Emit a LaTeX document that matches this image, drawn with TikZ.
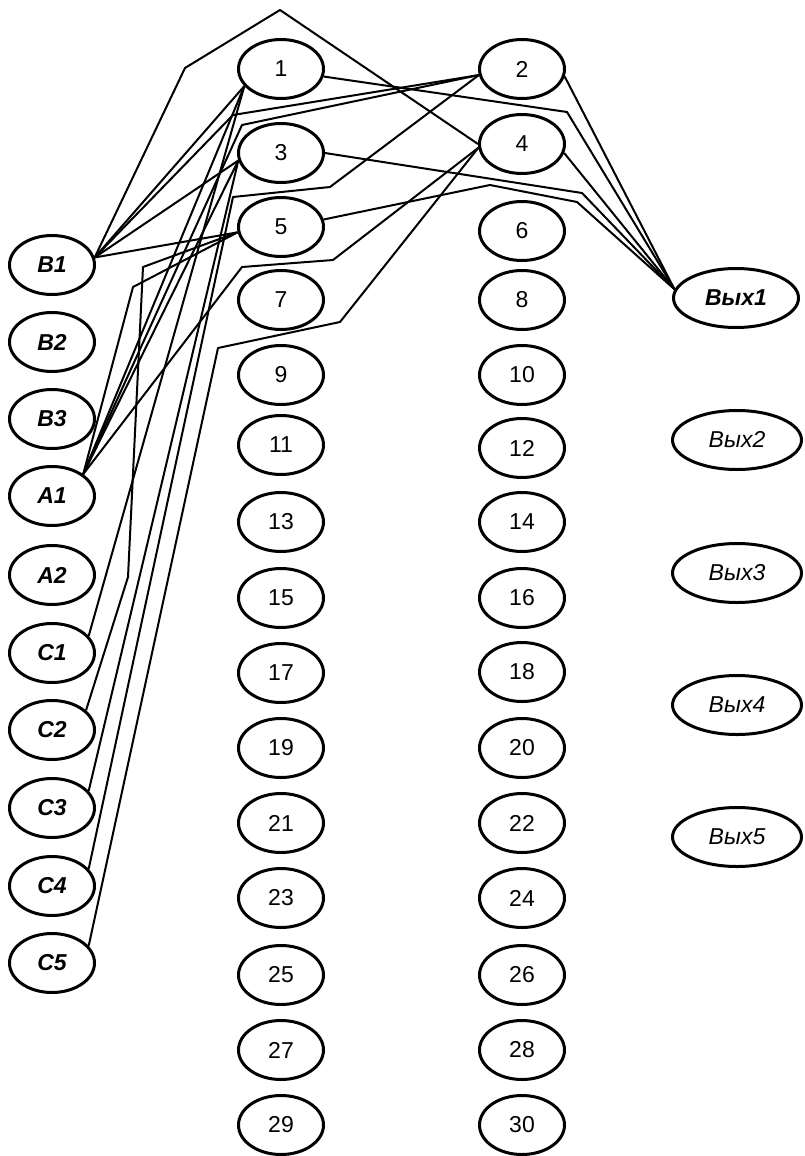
\documentclass[tikz,border=0pt]{standalone}
\usepackage{fontspec}
\setmainfont{Liberation Sans}
\usetikzlibrary{shapes.geometric}
\begin{document}
\begin{tikzpicture}[x=1pt,y=-1pt,
  nd/.style={ellipse,draw,line width=3pt,minimum width=85pt,minimum height=59pt,inner sep=0pt,font=\fontsize{23}{23}\selectfont},
  lbl/.style={nd,font=\fontsize{23}{23}\selectfont\bfseries\itshape},
  outa/.style={nd,minimum width=125pt,font=\fontsize{23}{23}\selectfont\bfseries\itshape},
  outb/.style={nd,minimum width=129pt,font=\fontsize{23}{23}\selectfont\itshape},
  wire/.style={line width=2pt,line join=round}]
\useasboundingbox (0,0) rectangle (805,1156);
% left column
\foreach \n/\y in {B1/265,B2/342,B3/419,A1/496,A2/575,C1/653,C2/730,C3/808,C4/886,C5/963}
  \node[lbl] (\n) at (52,\y) {\n};
% odd column
\foreach \n/\y in {1/69,3/153,5/227,7/300,9/375,11/445,13/522,15/598,17/673,19/748,21/823,23/898,25/975,27/1050,29/1125}
  \node[nd] (n\n) at (281,\y) {\n};
% even column
\foreach \n/\y in {2/69,4/144,6/231,8/300,10/375,12/448,14/522,16/598,18/672,20/748,22/823,24/898,26/975,28/1050,30/1125}
  \node[nd] (n\n) at (522,\y) {\n};
% outputs
\node[outa] (V1) at (736,298) {Вых1};
\node[outb] (V2) at (737,440) {Вых2};
\node[outb] (V3) at (737,573) {Вых3};
\node[outb] (V4) at (737,705) {Вых4};
\node[outb] (V5) at (737,837) {Вых5};
% B1
\draw[wire] (B1.10) -- (185,68) -- (280,10) -- (n4.180);
\draw[wire] (B1.10) -- (n1.205);
\draw[wire] (B1.10) -- (233,115) -- (n2.188);
\draw[wire] (B1.10) -- (n3.190);
\draw[wire] (B1.10) -- (n5.187);
% A1
\draw[wire] (A1.35) -- (n1.205);
\draw[wire] (A1.35) -- (242,125) -- (n2.188);
\draw[wire] (A1.35) -- (n3.190);
\draw[wire] (A1.35) -- (242,267) -- (333,260) -- (n4.185);
\draw[wire] (A1.35) -- (133,287) -- (n5.187);
% C
\draw[wire] (C1.25) -- (n1.205);
\draw[wire] (C2.30) -- (128,577) -- (143,267) -- (n5.187);
\draw[wire] (C3.25) -- (n3.190);
\draw[wire] (C4.25) -- (233,197) -- (330,187) -- (n2.188);
\draw[wire] (C5.25) -- (218,348) -- (340,322) -- (n4.185);
% outputs
\draw[wire] (n1.-10) -- (567,112) -- (V1.172);
\draw[wire] (n2.-10) -- (V1.172);
\draw[wire] (n3.0) -- (582,193) -- (V1.172);
\draw[wire] (n4.-12) -- (V1.172);
\draw[wire] (n5.10) -- (490,185) -- (577,202) -- (V1.172);
\end{tikzpicture}
\end{document}
